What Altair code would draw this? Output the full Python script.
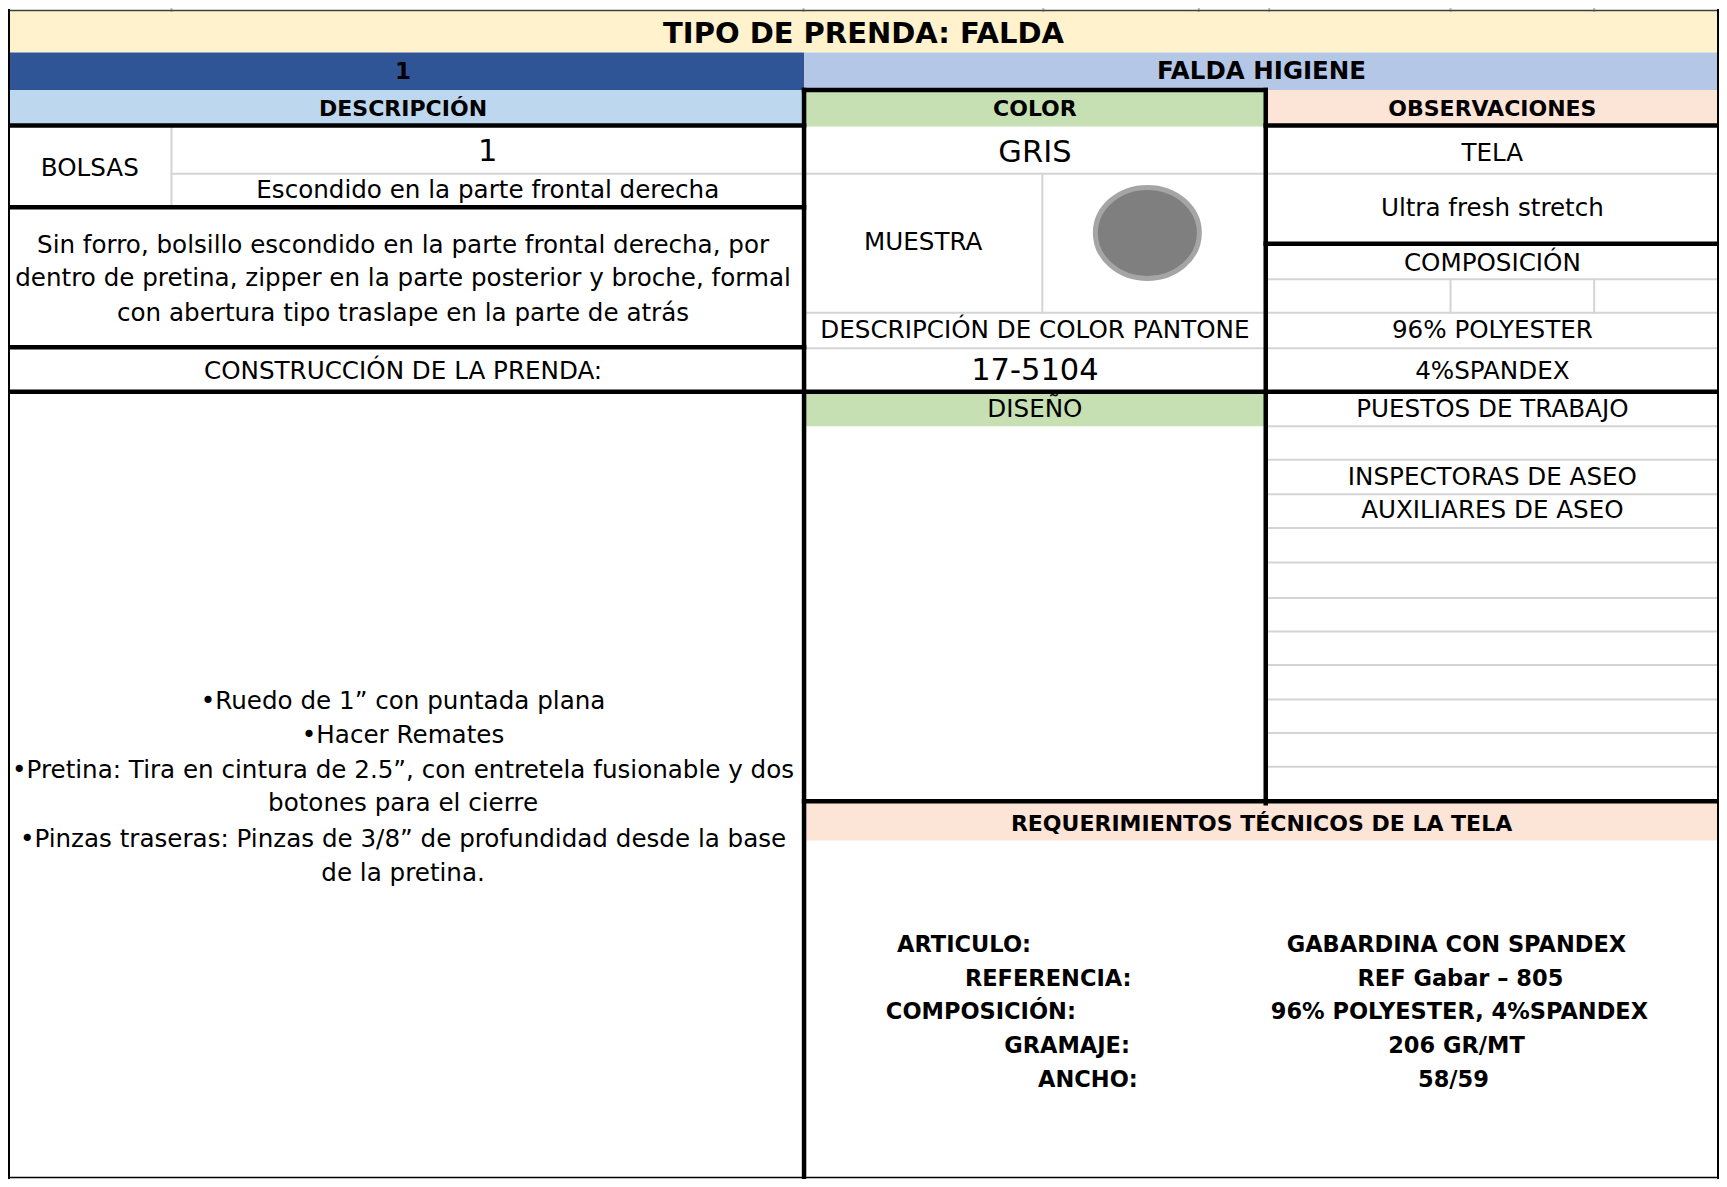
import altair as alt
import pandas as pd

# ---------------- content (text of the garment sheet) ----------------
title = "TIPO DE PRENDA: FALDA"
item_number = "1"
item_name = "FALDA HIGIENE"
section_headers = ["DESCRIPCIÓN", "COLOR", "OBSERVACIONES"]
pockets_label = "BOLSAS"
pockets_count = "1"
pockets_detail = "Escondido en la parte frontal derecha"
description_lines = [
    "Sin forro, bolsillo escondido en la parte frontal derecha, por",
    "dentro de pretina, zipper en la parte posterior y broche, formal",
    "con abertura tipo traslape en la parte de atrás",
]
construction_label = "CONSTRUCCIÓN DE LA PRENDA:"
construction_lines = [
    "•Ruedo de 1” con puntada plana",
    "•Hacer Remates",
    "•Pretina: Tira en cintura de 2.5”, con entretela fusionable y dos",
    "botones para el cierre",
    "•Pinzas traseras: Pinzas de 3/8” de profundidad desde la base",
    "de la pretina.",
]
color_name = "GRIS"
sample_label = "MUESTRA"
pantone_label = "DESCRIPCIÓN DE COLOR PANTONE"
pantone_code = "17-5104"
design_label = "DISEÑO"
observation_lines = [
    "TELA", "Ultra fresh stretch", "COMPOSICIÓN", "96% POLYESTER",
    "4%SPANDEX", "PUESTOS DE TRABAJO", "INSPECTORAS DE ASEO",
    "AUXILIARES DE ASEO",
]
requirements_title = "REQUERIMIENTOS TÉCNICOS DE LA TELA"
requirement_labels = ["ARTICULO:", "REFERENCIA:", "COMPOSICIÓN:", "GRAMAJE:", "ANCHO:"]
requirement_values = [
    "GABARDINA CON SPANDEX", "REF Gabar – 805", "96% POLYESTER, 4%SPANDEX",
    "206 GR/MT", "58/59",
]
sample_color = "#7F7F7F"

# ---------------- sheet layout (grid of the spreadsheet, in sheet pixels) ----------------
W, H = 1727, 1187
colL, colBolsa, colMid, colMuestra, colObs, colR = 0, 165, 803.5, 1044, 1269.5, 1727
comp_cols = [1456, 1601]
top_ticks = [165, 803, 1045, 1202, 1273, 1456, 1601]

fills = pd.DataFrame([
    dict(x=0, x2=W, y=3, y2=45, c="#FFF2CC"),
    dict(x=0, x2=colMid, y=45, y2=83, c="#2F5597"),
    dict(x=colMid, x2=W, y=45, y2=83, c="#B4C7E7"),
    dict(x=0, x2=colMid, y=83, y2=119, c="#BDD7EE"),
    dict(x=colMid, x2=colObs, y=83, y2=120, c="#C6E0B4"),
    dict(x=colObs, x2=W, y=83, y2=119, c="#FCE4D6"),
    dict(x=colMid, x2=colObs, y=389, y2=424, c="#C6E0B4"),
    dict(x=colMid, x2=W, y=804, y2=844, c="#FCE4D6"),
])

gray = "#D4D4D4"
rules = []
def hline(y, x1, x2, w, c):
    rules.append(dict(x=x1, x2=x2, y=y, y2=y, w=w, c=c))
def vline(x, y1, y2, w, c):
    rules.append(dict(x=x, x2=x, y=y1, y2=y2, w=w, c=c))

# thin gray grid
hline(168, colBolsa, colMid, 2, gray)
for y in [168, 309, 345]:
    hline(y, colMid, colObs, 2, gray)
for y in [168, 275, 309, 345, 424, 458, 493, 527, 562, 598, 632, 666, 701, 735, 769]:
    hline(y, colObs, W, 2, gray)
vline(colBolsa, 119, 202, 2, gray)
vline(colMuestra, 168, 309, 2, gray)
for x in comp_cols:
    vline(x, 275, 309, 2, gray)
for x in top_ticks:
    vline(x, 0, 3, 2, "#BFBFBF")
# outer frame
hline(2.5, 0, W, 1.5, "#404040")
hline(1185.5, 0, W, 1.5, "#000000")
vline(1, 2, H, 2, "#000000")
vline(1726, 2, H, 2, "#000000")
# thick borders
thick = 4.5
hline(119, 0, colMid, thick, "#000")
hline(119, colObs, W, thick, "#000")
hline(83, colMid, colObs, thick, "#000")
hline(202, 0, colMid, thick, "#000")
hline(344, 0, colMid, thick, "#000")
hline(239, colObs, W, thick, "#000")
hline(389, 0, W, thick, "#000")
hline(804, colMid, W, thick, "#000")
vline(colMid, 83, H, thick, "#000")
vline(colObs, 83, 806, thick, "#000")
rules = pd.DataFrame(rules)

# text placement
bold_rows = []
reg_rows = []
def bold(t, x, y, s):
    bold_rows.append(dict(t=t, x=x, y=y, s=s))
def reg(t, x, y, s):
    reg_rows.append(dict(t=t, x=x, y=y, s=s))

cxL = (colL + colMid) / 2 - 3
cxC = (colMid + colObs) / 2
cxO = (colObs + colR) / 2
cxR = (colMid + colR) / 2
body = 24.6
big = 30.5
lab = 22.5

bold(title, W / 2, 26, 29)
bold(item_number, cxL, 65, 23)
bold(item_name, cxR, 65, 24.5)
for t, x in zip(section_headers, [cxL, cxC, cxO]):
    bold(t, x, 102, 22)
reg(pockets_label, (colL + colBolsa) / 2, 163, body)
reg(pockets_count, (colBolsa + colMid) / 2, 146, big)
reg(pockets_detail, (colBolsa + colMid) / 2, 186, body)
for t, y in zip(description_lines, [241, 275, 310]):
    reg(t, cxL, y, body)
reg(construction_label, cxL, 369, body)
for t, y in zip(construction_lines, [703, 738, 773, 807, 843, 878]):
    reg(t, cxL, y, body)
reg(color_name, cxC, 147, big)
reg(sample_label, (colMid + colMuestra) / 2, 238, body)
reg(pantone_label, cxC, 327, body)
reg(pantone_code, cxC, 368, big)
reg(design_label, cxC, 407, body)
for t, y in zip(observation_lines, [148, 204, 259, 327, 369, 407, 476, 510]):
    reg(t, cxO, y, body)
bold(requirements_title, cxR, 827, 22)
for t, x, y in zip(requirement_labels, [965, 1050, 982, 1069, 1090],
                   [950, 984, 1018, 1052, 1087]):
    bold(t, x, y, lab)
for t, x, y in zip(requirement_values, [1462, 1466, 1465, 1462, 1459],
                   [950, 984, 1018, 1052, 1087]):
    bold(t, x, y, lab)
bold_df = pd.DataFrame(bold_rows)
reg_df = pd.DataFrame(reg_rows)

sample_df = pd.DataFrame([dict(x=1150, y=228, c=sample_color)])

# ---------------- chart ----------------
xs = alt.Scale(domain=[0, W], nice=False, zero=False)
ys = alt.Scale(domain=[0, H], nice=False, zero=False, reverse=True)
X = lambda f="x": alt.X(f"{f}:Q", scale=xs, axis=None)
Y = lambda f="y": alt.Y(f"{f}:Q", scale=ys, axis=None)

rect_layer = alt.Chart(fills).mark_rect().encode(
    x=X(), x2="x2:Q", y=Y(), y2="y2:Q",
    color=alt.Color("c:N", scale=None),
)
rule_layer = alt.Chart(rules).mark_rule(strokeCap="square").encode(
    x=X(), x2="x2:Q", y=Y(), y2="y2:Q",
    color=alt.Color("c:N", scale=None),
    strokeWidth=alt.StrokeWidth("w:Q", scale=None),
)
ellipse_path = "M-1,0A1,0.875,0,1,0,1,0A1,0.875,0,1,0,-1,0Z"
sample_layer = alt.Chart(sample_df).mark_point(
    shape=ellipse_path, filled=True, size=10816, opacity=1,
    stroke="#A5A5A5", strokeWidth=5,
).encode(x=X(), y=Y(), fill=alt.Fill("c:N", scale=None))

reg_layer = alt.Chart(reg_df).mark_text(
    font="DejaVu Sans", align="center", baseline="middle", color="#000000",
).encode(x=X(), y=Y(), text="t:N", size=alt.Size("s:Q", scale=None))
bold_layer = alt.Chart(bold_df).mark_text(
    font="DejaVu Sans", fontWeight="bold", align="center", baseline="middle",
    color="#000000",
).encode(x=X(), y=Y(), text="t:N", size=alt.Size("s:Q", scale=None))

chart = alt.layer(rect_layer, rule_layer, sample_layer, reg_layer, bold_layer).properties(
    width=1711, height=1171, padding=0, autosize=alt.AutoSizeParams(type="none"),
    background="#FFFFFF",
).configure_view(stroke=None)

chart.save("out.html", embed_options={"renderer": "svg", "actions": False})
